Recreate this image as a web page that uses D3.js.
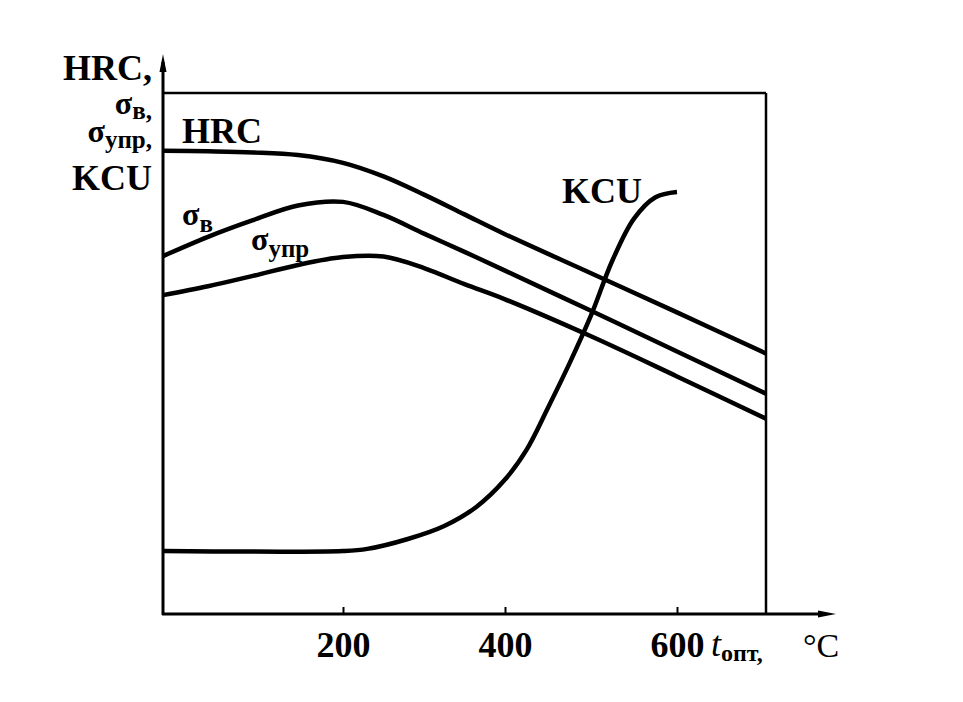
<!DOCTYPE html>
<html>
<head>
<meta charset="utf-8">
<script src="https://cdn.jsdelivr.net/npm/d3@7/dist/d3.min.js"></script>
<style>
  body { margin: 0; background: #fff; }
  text { font-family: "Liberation Serif", "Times New Roman", serif; fill: #000; }
</style>
</head>
<body>
<script>
// tempering temperature, shared by the three strength curves
var temps = [0, 50, 100, 150, 200, 250, 300, 350, 400, 500, 600, 700];
var hrc      = [88.9, 88.8, 88.6, 88.1, 86.6, 84.0, 80.5, 76.7, 72.9, 65.4, 57.9, 50.0];
var sigmaB   = [68.7, 72.4, 75.6, 78.4, 79.1, 76.6, 73.0, 69.5, 65.9, 58.2, 50.4, 42.3];
var sigmaUpr = [61.2, 62.9, 64.9, 67.0, 68.5, 68.6, 66.4, 63.3, 60.4, 53.3, 45.6, 37.5];

// impact toughness has its own sampling
var kcuTemps = [0, 200, 230, 280, 325, 365, 400, 425, 450, 475, 500, 525, 550, 575, 600];
var kcu      = [12.1, 12.1, 12.5, 14.4, 16.9, 20.6, 25.8, 31.5, 39.6, 48.1, 57.3, 67.9, 75.9, 80.0, 81.0];

var tickTemps = [200, 400, 600];

var width = 963, height = 702;
var svg = d3.select('body').append('svg')
  .attr('width', width)
  .attr('height', height);

// the original is hand drawn, tick spacing is uneven
var x = d3.scaleLinear()
  .domain([0, 200, 400, 600, 700])
  .range([163, 343, 505, 677, 766]);
var y = d3.scaleLinear()
  .domain([0, 100])
  .range([614, 93]);

// frame: top and right lines
svg.append('line')
  .attr('x1', x(0)).attr('y1', y(100))
  .attr('x2', x(700)).attr('y2', y(100))
  .attr('stroke', '#000').attr('stroke-width', 2.5);
svg.append('line')
  .attr('x1', x(700)).attr('y1', y(100))
  .attr('x2', x(700)).attr('y2', y(0))
  .attr('stroke', '#000').attr('stroke-width', 2.5);

// axes with arrows
svg.append('line')
  .attr('x1', x(0)).attr('y1', y(0) + 1)
  .attr('x2', x(0)).attr('y2', 62)
  .attr('stroke', '#000').attr('stroke-width', 3);
svg.append('path')
  .attr('d', 'M' + x(0) + ',54 L' + (x(0) - 3.5) + ',72 L' + (x(0) + 3.5) + ',72 Z')
  .attr('fill', '#000');
svg.append('line')
  .attr('x1', x(0) - 1).attr('y1', y(0))
  .attr('x2', 826).attr('y2', y(0))
  .attr('stroke', '#000').attr('stroke-width', 3);
svg.append('path')
  .attr('d', 'M836,' + y(0) + ' L818,' + (y(0) - 3.5) + ' L818,' + (y(0) + 3.5) + ' Z')
  .attr('fill', '#000');

var xAxis = svg.append('g')
  .attr('transform', 'translate(0,' + y(0) + ')')
  .call(d3.axisBottom(x).tickValues(tickTemps).tickSize(-7).tickPadding(17));
xAxis.select('.domain').remove();
xAxis.selectAll('line').attr('stroke', '#000').attr('stroke-width', 2);
xAxis.selectAll('text')
  .style('font-family', '"Liberation Serif", "Times New Roman", serif')
  .style('font-size', '36px')
  .style('font-weight', 'bold')
  .attr('fill', '#000');

// curves
var line = d3.line().curve(d3.curveCatmullRom.alpha(0.5))
  .x(function(d){ return x(d[0]); })
  .y(function(d){ return y(d[1]); });

var series = [hrc, sigmaB, sigmaUpr].map(function(vals){
  return temps.map(function(t, i){ return [t, vals[i]]; });
});
series.push(kcuTemps.map(function(t, i){ return [t, kcu[i]]; }));

svg.selectAll('path.curve').data(series).enter()
  .append('path')
  .attr('class', 'curve')
  .attr('d', line)
  .attr('fill', 'none')
  .attr('stroke', '#000')
  .attr('stroke-width', 4.5)
  .attr('stroke-linejoin', 'round');

// labels
function label(px, py, parts, anchor){
  var t = svg.append('text')
    .attr('x', px).attr('y', py)
    .attr('text-anchor', anchor || 'start')
    .style('font-weight', 'bold');
  parts.forEach(function(p){
    t.append('tspan')
      .attr('dy', p.dy || 0)
      .style('font-size', (p.size || 36) + 'px')
      .style('font-style', p.italic ? 'italic' : 'normal')
      .style('font-weight', p.normal ? 'normal' : 'bold')
      .text(p.text);
  });
  return t;
}

// y axis title
label(152, 80, [{text: 'HRC,'}], 'end');
label(152, 114, [{text: 'σ', size: 32}, {text: 'в,', size: 25, dy: 5}], 'end');
label(152, 142, [{text: 'σ', size: 32}, {text: 'упр,', size: 25, dy: 6}], 'end');
label(152, 190, [{text: 'KCU'}], 'end');

// curve names
label(182, 143, [{text: 'HRC'}]);
label(182, 225, [{text: 'σ', size: 32}, {text: 'в', size: 25, dy: 7}]);
label(251, 250, [{text: 'σ', size: 32}, {text: 'упр', size: 25, dy: 7}]);
label(562, 203, [{text: 'KCU'}]);

// x axis title
label(711, 656, [{text: 't', italic: true, normal: true}, {text: 'опт,', size: 24, dy: 5}]);
label(803, 657, [{text: '°C', size: 34, normal: true}]);
</script>
</body>
</html>
